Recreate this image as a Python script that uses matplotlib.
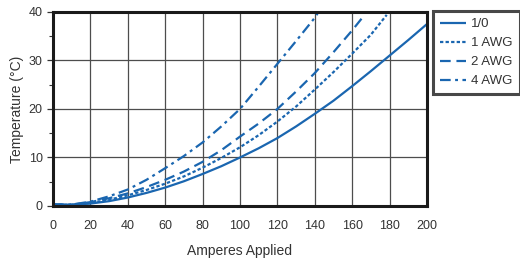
import matplotlib
matplotlib.use("Agg")
import matplotlib.pyplot as plt
from matplotlib.ticker import MultipleLocator

plt.rcParams['font.family'] = ['Liberation Sans', 'DejaVu Sans']

series_names = ["1/0", "1 AWG", "2 AWG", "4 AWG"]

amps_10 = [0, 10, 20, 30, 40, 50, 60, 70, 80, 90, 100, 110, 120, 130, 140, 150, 160, 170, 180, 190, 200]
temp_10 = [0.3, 0.25, 0.5, 1.0, 1.75, 2.7, 3.8, 5.1, 6.6, 8.2, 10.0, 11.9, 14.0, 16.4, 19.0, 21.7, 24.7, 27.8, 31.0, 34.2, 37.5]

amps_1 = [0, 10, 20, 30, 40, 50, 60, 70, 80, 90, 100, 110, 120, 130, 140, 150, 160, 170, 178.5]
temp_1 = [0.3, 0.25, 0.6, 1.3, 2.2, 3.3, 4.6, 6.1, 7.9, 9.9, 12.1, 14.6, 17.4, 20.5, 24.0, 27.6, 31.4, 35.3, 39.4]

amps_2 = [0, 10, 20, 30, 40, 50, 60, 70, 80, 90, 100, 110, 120, 130, 140, 150, 160, 165]
temp_2 = [0.3, 0.25, 0.8, 1.6, 2.6, 3.9, 5.4, 7.1, 9.1, 11.5, 14.3, 17.0, 20.0, 23.6, 27.4, 31.7, 36.2, 38.6]

amps_4 = [0, 10, 20, 30, 40, 50, 60, 70, 80, 90, 100, 110, 120, 130, 140, 142]
temp_4 = [0.3, 0.3, 0.9, 2.0, 3.4, 5.4, 7.8, 10.3, 13.1, 16.4, 20.0, 24.6, 29.3, 34.0, 38.8, 40.0]

x_label = "Amperes Applied"
y_label = "Temperature (°C)"

blue = '#1a66b0'
styles = ['-', (0, (1.5, 1.0)), (0, (4.8, 2.6)), (0, (4.8, 2.0, 1.3, 2.0))]

fig = plt.figure(figsize=(5.2, 2.64), dpi=100)
ax = fig.add_axes([0.102, 0.2197, 0.719, 0.735])

data = [(amps_10, temp_10), (amps_1, temp_1), (amps_2, temp_2), (amps_4, temp_4)]
handles = []
for (xs, ys), name, ls in zip(data, series_names, styles):
    h, = ax.plot(xs, ys, color=blue, lw=1.6, linestyle=ls, label=name,
                 solid_capstyle='butt', dash_capstyle='butt', solid_joinstyle='round')
    handles.append(h)

ax.set_xlim(0, 200)
ax.set_ylim(0, 40)
ax.xaxis.set_major_locator(MultipleLocator(20))
ax.yaxis.set_major_locator(MultipleLocator(10))
ax.yaxis.set_minor_locator(MultipleLocator(5))
ax.grid(True, which='major', color='#4d4d4d', lw=0.9)
ax.set_axisbelow(True)
for s in ax.spines.values():
    s.set_linewidth(2.2)
    s.set_color('#1a1a1a')
ax.tick_params(axis='x', length=0, pad=10, labelsize=9, labelcolor='#333333')
ax.tick_params(axis='y', which='major', length=4, width=0.9, direction='out',
               labelsize=9, labelcolor='#333333', color='#333333')
ax.tick_params(axis='y', which='minor', length=3, width=0.8, direction='out', color='#333333')
ax.set_xlabel(x_label, fontsize=10, color='#333333', labelpad=9)
ax.set_ylabel(y_label, fontsize=10, color='#333333', labelpad=3)

leg = fig.legend(handles=handles, loc='upper left', bbox_to_anchor=(0.833, 0.957),
                 frameon=True, fancybox=False, fontsize=9.5, handlelength=2.0,
                 handletextpad=0.4, labelspacing=0.52, borderpad=0.5,
                 borderaxespad=0)
leg.get_frame().set_edgecolor('#1a1a1a')
leg.get_frame().set_linewidth(2.2)
for t in leg.get_texts():
    t.set_color('#333333')

fig.savefig('out.png', dpi=100)
